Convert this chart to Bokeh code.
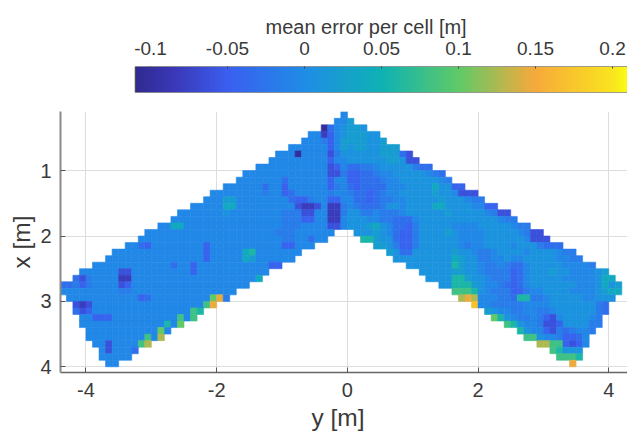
from bokeh.plotting import figure
from bokeh.models import Range1d, FixedTicker, LinearColorMapper, ColumnDataSource, Title
from bokeh.layouts import column
from bokeh.embed import file_html
from bokeh.resources import INLINE
import numpy as np

# colour levels
LEVELS = dict(A=-0.10, B=-0.08, C=-0.062, D=-0.045, E=-0.032, F=-0.018, G=-0.006, H=0.008,
              I=0.022, J=0.038, K=0.058, L=0.08, M=0.10, N=0.125, O=0.145, P=0.17)

# first cell of each row (in tenths of a metre along y); rows go from x=0.1 to x=3.9
START_A = [-1,-2,-4,-6,-7,-9,-11,-12,-14,-16,-17,-19,-21,-22,-24,-26,-27,-29,-31,-32,-34,-36,-37,-39,
           -41,-42,-44,-44,-43,-42,-42,-41,-41,-40,-40,-39,-38,-38,-37]
CELLS_A = [
"G","GGI","AEGHIIH","GGBDGHIIIHH","GGGFDGIIIIHHI","GGGGGGDGIHIIHHIII",
"GGGAGGGGCFHHHHHHIIIEC","GGGGGGGGGDGGHHHHHHIIHCC","GGGGGGGGGGGCDGEEFFGHHHHHFEE",
"GGGGGGGGGGGGGCCFDDEEFGGHHHHHGFE","GGGGGGGEGGGGGGDGGDDEEEFGGHHHHHHGF",
"GGGGGGEGGDGGGGGGDFGEDEEEEGGGHHHHJHHDD","GGGGGGGGFGGDEGGGGGFGGFEEDEFGGHHHHHIHHGCCC",
"GGGIIGGGGGGGGEDDFGGDDGGEEDEFFGGHHHHHIHHHGFF",
"GGGGGJJGGGGGGGGGCBBCGBBFGFEEEFHHGHHHHJJHHHHGGDD",
"GGGGGGGHGGGGGGGGFFFCCGGBBFHHFFGFFFGHHHHHHIHHHHHGFCC",
"GGGGGGGGGGGGGGGGGFFFDDGGBBGHHHGGFFEEEGHHHHHHHHHHHHGFF",
"GGJJGGGGGGGGGGGGGGGFFFGGGGCCGHHHIJHGEEDFHHHHHGGGGHHHHHGFF",
"GGGGGGGGGGGGGGGGGGGGFFFGGGGGG","GGGGGGGGGGGGGGGGGGGGGGFFGGEGG","GGEDGGGGGGGGDGGGGGGGGGGGDDGGG",
"GGGGGGGGGGGGGGDGGGGGJKGGGGGGG","GGGGGGGGGGGGGGGDGGGGGJIGGGGGG","GGGGGGGGGGGGEGGDGGGGGGGGGGGDD",
"GGGGGGCCGGGGGGGGGDGGGGGGGGGGG","ECFGGGGBBGGGGGGGGGGGGGGGGGGGJ","EEFDFGGGGCDGGGGGGGGGGGGGGGGGG",
"GGGGGGGGGFFGGGGGGGGGGGGGGGG","GGGGGGGGGGGDEGGGGGGGGGMOF","CBCGGGGGGGGGGGGGGGGGLO",
"ECDGGGGGGGGGGGGGGGLK","GGDDDGGGGGGGGGGLGL","GGGGGGGGGGGGGKGM","GGGGGGGGGGGMG","GGGGGGGGGLGN",
"GGCGGGGLN","GCGGGE","GGGGG","GG"]
# right wing of rows 18 to 38 (row 18 is index 0)
START_B = [1,2,4,6,7,9,11,12,14,16,17,19,21,22,24,26,27,29,31,32,34]
CELLS_B = [
"HHHIHGEDDFHHHHIHGGGGHHHHHGFCC","KKIHHEDDFHHHHHHGGGGHHHHHHGCCC","IIHFDDFHHHHHHGFGGHHHHGHHHFEEE",
"IHEEHHHHHHIHHGFFGHHHHGHHHHGFF","HHHHHHHHHJIHHFFGGHGGHHHHHGGFF","HHHHHHHKIHHGFFGFEEGHHHHHGGGGF",
"HHHHHIIHHGFFFFDEGHHHIHHGGGGHI","HHHHKKIHHGFFFDEGHHHHHGGGGGHJJ","HHKKKIHGGFEDEGHHHHHHHGGGHJHI",
"LLLKHGFFFDDFGGHHHHGGGGHIJJ","NONGGGFFEKKFFGHHHHHGGHHH","PGGFFFFFGGGGHHHHHHHFE","IHGGFFGGFFGHHHHHHFE",
"MKHGFFGFDCGHHHHGF","LKHGGFCCDHHHHFF","KHGGDCFEFGGF","LLHGGFDDEG","NNLLDCDG","LKHHH","LLLK","O"]

COLOR_STOPS = ["#302a90","#3a38b8","#3a5ff0","#1f8de6","#0eb2b4","#5fca68","#f7a93c","#f9e41e","#f9fb15"]
STOP_VALUES = [-0.11,-0.085,-0.05,0.0,0.05,0.10,0.15,0.20,0.2097]
BAR_TICKS = [-0.1,-0.05,0,0.05,0.1,0.15,0.2]
BAR_LABELS = ["-0.1","-0.05","0","0.05","0.1","0.15","0.2"]
Y_TICKS = [-4,-2,0,2,4]
Y_TICK_LABELS = ["-4","-2","0","2","4"]
X_TICKS = [1,2,3,4]
VMIN, VMAX = -0.1099, 0.2097
BAR_VIEW_LOW = -0.15844
FONT = "Liberation Sans"
TEXT = "#3a3a3a"

ENDS_A = [0,1,3,5,6,8,10,11,13,15,16,18,20,21,23,25,26,28,-2,-3,-5,-7,-8,-10,-12,-13,-15,-17,-18,-20,-22,-23,-25,-27,-28,-30,-32,-33,-35]
ENDS_B = [30,31,33,35,36,38,40,41,42,42,41,40,40,39,39,38,37,37,36,36,35]
for i,(s,c,e) in enumerate(zip(START_A,CELLS_A,ENDS_A)):
    assert s+len(c)==e, ("A",i,len(c),e-s)
for i,(s,c,e) in enumerate(zip(START_B,CELLS_B,ENDS_B)):
    assert s+len(c)==e, ("B",i,len(c),e-s)

xs, ys, vs = [], [], []
for r,(s,c) in enumerate(zip(START_A,CELLS_A)):
    for j,ch in enumerate(c):
        xs.append((s+j+0.5)*0.1); ys.append(0.15+0.1*r); vs.append(LEVELS[ch])
for r,(s,c) in enumerate(zip(START_B,CELLS_B)):
    for j,ch in enumerate(c):
        xs.append((s+j+0.5)*0.1); ys.append(0.15+0.1*(r+18)); vs.append(LEVELS[ch])

def hex2rgb(h):
    return np.array([int(h[i:i+2],16) for i in (1,3,5)],float)
grid_v = np.linspace(VMIN,VMAX,256)
stops = np.array([hex2rgb(h) for h in COLOR_STOPS])
palette = ["#%02x%02x%02x"%tuple(int(round(np.interp(v,STOP_VALUES,stops[:,k]))) for k in range(3)) for v in grid_v]
mapper = LinearColorMapper(palette=palette, low=VMIN, high=VMAX)

# colour bar
cb = figure(width=627, height=98, output_backend="svg", toolbar_location=None,
            x_range=Range1d(BAR_VIEW_LOW,VMAX), y_range=Range1d(0,1),
            x_axis_location="above", min_border_left=60, min_border_right=0,
            min_border_top=66, min_border_bottom=6)
cb.image(image=[np.array([grid_v])], x=VMIN, y=0, dw=VMAX-VMIN, dh=1, color_mapper=mapper)
cb.quad(left=[VMIN],right=[VMAX],bottom=[0],top=[1],fill_color=None,line_color="#444444",line_width=1)
cb.yaxis.visible=False
cb.grid.visible=False
cb.outline_line_color=None
ax=cb.xaxis[0]
ax.ticker=FixedTicker(ticks=BAR_TICKS)
ax.major_label_overrides={t:l for t,l in zip(BAR_TICKS,BAR_LABELS)}
ax.minor_tick_line_color=None
ax.major_tick_in=2; ax.major_tick_out=0
ax.major_tick_line_color="#444444"
ax.axis_line_color=None
ax.major_label_text_font=FONT
ax.major_label_text_font_size="19px"
ax.major_label_text_color=TEXT
ax.major_label_standoff=12
cb.add_layout(Title(text="mean error per cell [m]", align="left", offset=205, standoff=2,
                    text_font=FONT, text_font_size="20px", text_font_style="normal",
                    text_color=TEXT), "above")

# map
p = figure(width=627, height=338, output_backend="svg", toolbar_location=None,
           x_range=Range1d(-4.39,4.287), y_range=Range1d(4.087,0.096),
           min_border_left=60, min_border_right=0, min_border_top=13, min_border_bottom=64)
src = ColumnDataSource(dict(x=xs,y=ys,v=vs))
col={"field":"v","transform":mapper}
p.rect("x","y",width=0.1,height=0.1,source=src,fill_color=col,line_color=col,line_width=0.6)
p.outline_line_color=None
p.xaxis.ticker=FixedTicker(ticks=Y_TICKS)
p.xaxis.major_label_overrides={t:l for t,l in zip(Y_TICKS,Y_TICK_LABELS)}
p.yaxis.ticker=FixedTicker(ticks=X_TICKS)
p.yaxis.axis_label="x [m]"
p.grid.grid_line_color="#dedede"
p.grid.grid_line_width=1
for a in (p.xaxis[0],p.yaxis[0]):
    a.minor_tick_line_color=None
    a.major_tick_in=5; a.major_tick_out=0
    a.major_tick_line_color="#555555"
    a.axis_line_color="#666666"
    a.axis_line_width=1.5
    a.major_label_text_font=FONT
    a.major_label_text_font_size="20px"
    a.major_label_text_color=TEXT
    a.axis_label_text_font=FONT
    a.axis_label_text_font_style="normal"
    a.axis_label_text_font_size="24.5px"
    a.axis_label_text_color=TEXT
p.yaxis[0].axis_line_color="#8a8a8a"
p.yaxis[0].axis_line_width=2
p.xaxis[0].major_label_standoff=10
p.yaxis[0].major_label_standoff=9
p.yaxis[0].major_label_orientation="horizontal"
p.yaxis[0].axis_label_standoff=2
p.add_layout(Title(text="y [m]", align="left", offset=251, standoff=4,
                   text_font=FONT, text_font_size="24.5px", text_font_style="normal",
                   text_color=TEXT), "below")

open("out.html","w").write(file_html(column(cb,p,spacing=0), INLINE))
